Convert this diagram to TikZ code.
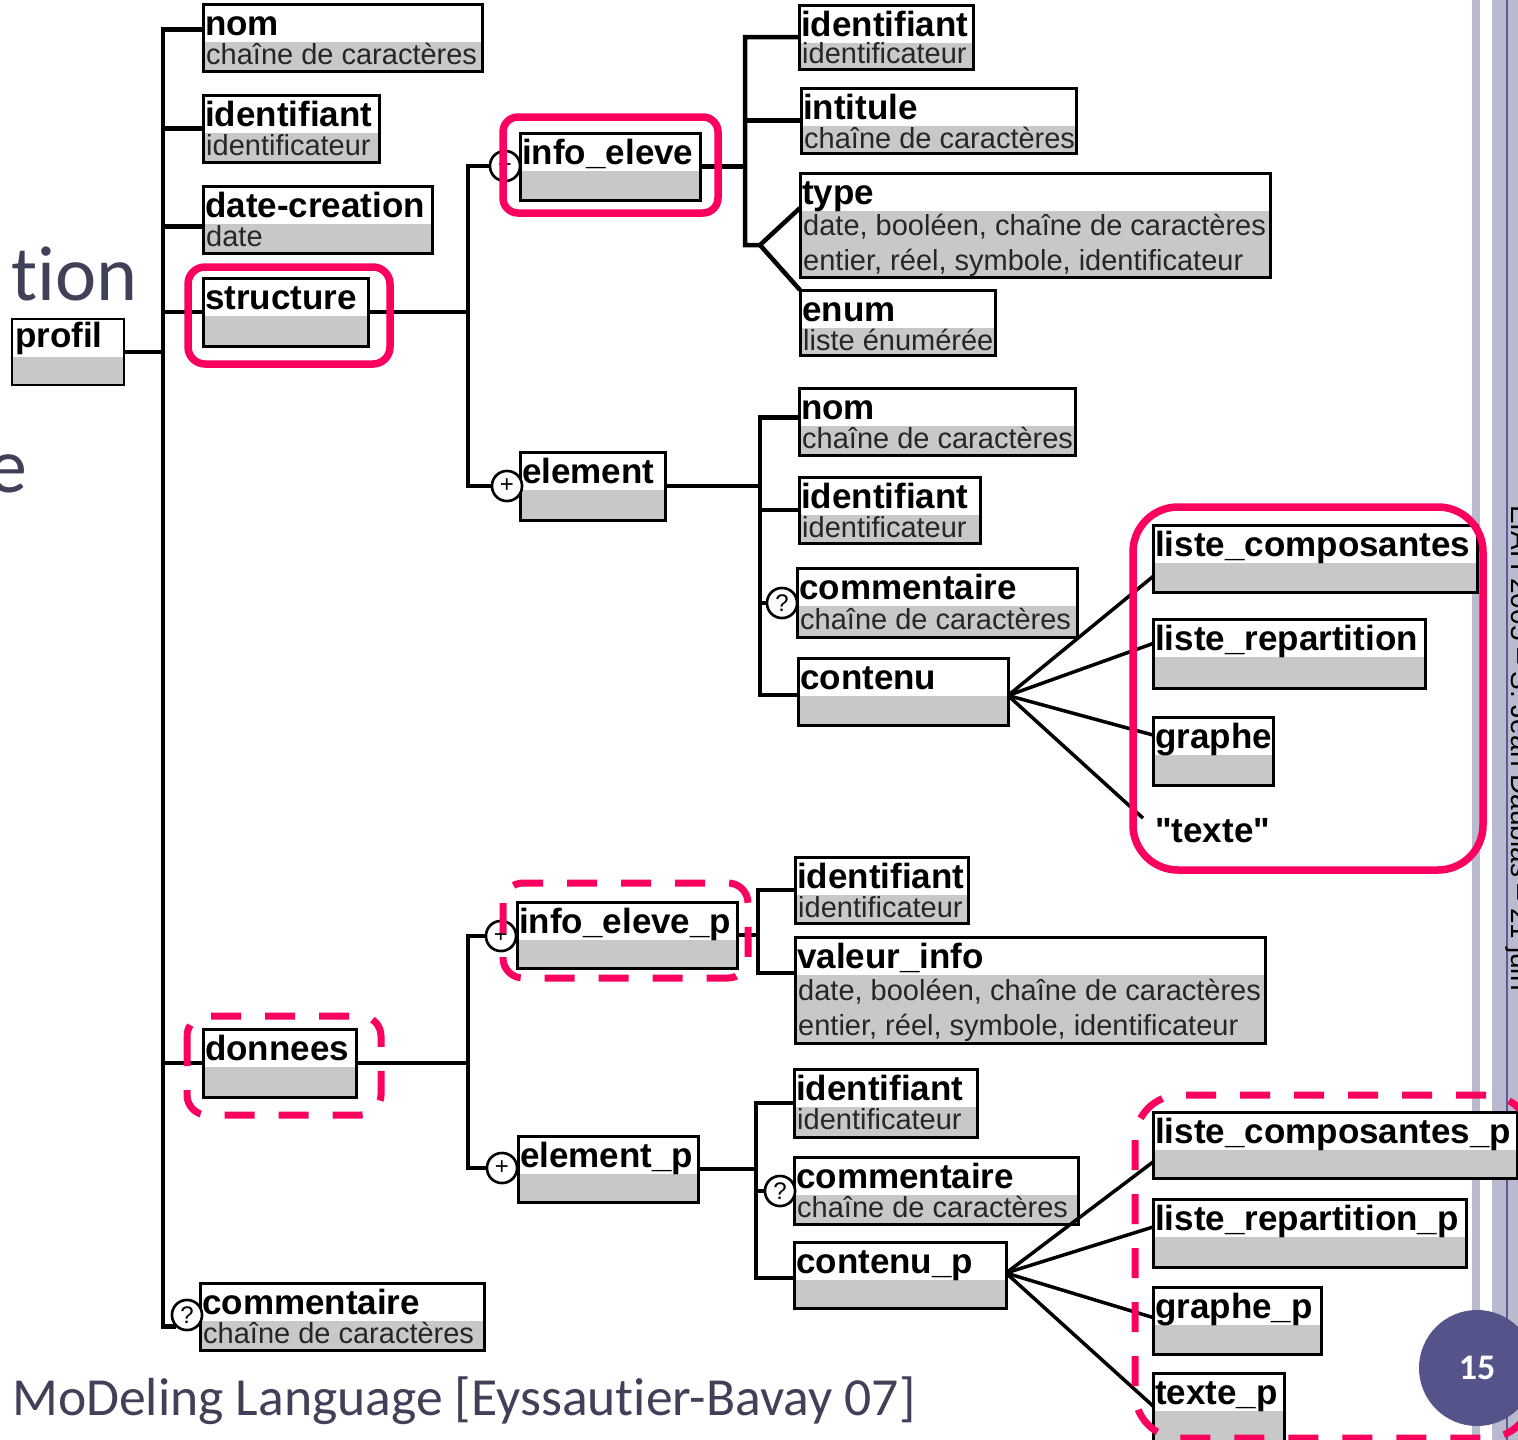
\documentclass[tikz,border=0pt]{standalone}
\usepackage{fontspec}
\setmainfont{Liberation Sans}
\newfontfamily\qfont{Liberation Sans}
\newfontfamily\calibri[Ligatures={NoCommon}]{Carlito}
\usetikzlibrary{calc}
\definecolor{boxgray}{RGB}{200,200,200}
\definecolor{hl}{RGB}{250,0,95}
\definecolor{slate}{RGB}{64,64,88}
\definecolor{barcol}{RGB}{186,186,206}
\definecolor{barline}{RGB}{90,90,150}
\definecolor{pagecol}{RGB}{84,84,138}
\tikzset{
  ebox/.style={rectangle, draw=black, line width=3pt, fill=white, inner sep=0pt, outer sep=0pt, anchor=north west,
    path picture={\fill[boxgray] ([yshift=-38pt]path picture bounding box.north west) rectangle (path picture bounding box.south east);}},
  namest/.style={anchor=base west, inner sep=0pt, font=\fontsize{35}{40}\selectfont\bfseries},
  typest/.style={anchor=base west, inner sep=0pt, font=\fontsize{29}{34}\selectfont, text=black!85},
  conn/.style={line width=4.5pt, draw=black},
  fan/.style={line width=3.5pt, draw=black},
  opt/.style={circle, draw=black, line width=2.5pt, fill=white, minimum size=30pt, inner sep=0pt, font=\fontsize{24}{24}\selectfont},
  hlsolid/.style={draw=hl, line width=7.5pt},
  hldash/.style={draw=hl, line width=7pt, dash pattern=on 30pt off 24pt},
  slidetxt/.style={inner sep=0pt, text=slate},
}
\newcommand\mybox[6]{%
  \node[ebox, minimum width=#4pt, minimum height=#5pt] (#1) at (#2,#3) {};
  \node[namest] (#1-n) at ([xshift=2pt,yshift=-31pt]#1.north west) {#6};
}
\newcommand\mytype[3]{%
  \node[typest] (#1-t#2) at ([xshift=3pt,yshift=-#2pt]#1.north west) {#3};
}
\begin{document}
\begin{tikzpicture}[x=1pt,y=-1pt]
\useasboundingbox (0,0) rectangle (1518,1440);
\clip (0,0) rectangle (1518,1440);
% ---------- bars (background)
\fill[barcol] (1472,0) rectangle (1480,1440);
\fill[barcol] (1492,0) rectangle (1518,1440);
\draw[barline, line width=1.5pt] (1507,0) -- (1507,1440);

% ---------- boxes
\node[ebox, line width=2pt, minimum width=112pt, minimum height=66pt] (profil) at (12,319) {};
\node[namest] (profil-n) at ([xshift=3pt,yshift=-28pt]profil.north west) {profil};

\mybox{nom1}{203}{4}{279}{67}{nom} \mytype{nom1}{60}{chaîne de caractères}
\mybox{id1}{203}{95}{176}{67}{identifiant} \mytype{id1}{60}{identificateur}
\mybox{date}{203}{186}{229}{67}{date-creation} \mytype{date}{60}{date}
\mybox{structure}{203}{278}{165}{68}{structure}
\mybox{donnees}{203}{1029}{153}{68}{donnees}
\mybox{comm1}{200}{1283}{284}{67}{commentaire} \mytype{comm1}{60}{chaîne de caractères}

\mybox{info}{520}{133}{180}{67}{info\_eleve}
\mybox{element}{520}{452}{145}{68}{element}

\mybox{id2}{799}{5}{174}{64}{identifiant} \mytype{id2}{58}{identificateur}
\mybox{intitule}{801}{88}{275}{65}{intitule} \mytype{intitule}{60}{chaîne de caractères}
\mybox{type}{800}{173}{470}{104}{type}
\mytype{type}{62}{date, booléen, chaîne de caractères}
\mytype{type}{97}{entier, réel, symbole, identificateur}
\mybox{enum}{800}{290}{195}{65}{enum} \mytype{enum}{60}{liste énumérée}

\mybox{nom2}{799}{388}{276}{67}{nom} \mytype{nom2}{60}{chaîne de caractères}
\mybox{id3}{799}{477}{181}{66}{identifiant} \mytype{id3}{60}{identificateur}
\mybox{comm2}{797}{568}{280}{69}{commentaire} \mytype{comm2}{61}{chaîne de caractères}
\mybox{contenu}{798}{658}{210}{67}{contenu}

\mybox{lcomp}{1153}{525}{324}{67}{liste\_composantes}
\mybox{lrep}{1153}{619}{272}{69}{liste\_repartition}
\mybox{graphe}{1153}{717}{120}{68}{graphe}
\node[namest, font=\qfont\fontsize{35}{40}\selectfont\bfseries] (texte) at (1155,842) {"texte"};

\mybox{infop}{517}{902}{220}{66}{info\_eleve\_p}
\mybox{elemp}{518}{1136}{180}{66}{element\_p}
\mybox{id4}{795}{857}{173}{66}{identifiant} \mytype{id4}{60}{identificateur}
\mybox{valeur}{795}{937}{470}{106}{valeur\_info}
\mytype{valeur}{63}{date, booléen, chaîne de caractères}
\mytype{valeur}{98}{entier, réel, symbole, identificateur}
\mybox{id5}{794}{1069}{183}{68}{identifiant} \mytype{id5}{60}{identificateur}
\mybox{comm3}{794}{1157}{284}{67}{commentaire} \mytype{comm3}{60}{chaîne de caractères}
\mybox{contp}{794}{1242}{212}{66}{contenu\_p}

\mybox{lcompp}{1153}{1112}{364}{66}{liste\_composantes\_p}
\mybox{lrepp}{1153}{1199}{313}{68}{liste\_repartition\_p}
\mybox{graphep}{1153}{1287}{168}{67}{graphe\_p}
\mybox{textep}{1153}{1373}{131}{76}{texte\_p}

% ---------- optional / multiplicity circles (positions)
\node[opt] (p1) at (505,166) {+};
\node[opt] (p2) at (507,486) {+};
\node[opt] (p3) at (501,936) {+};
\node[opt] (p4) at (502,1168) {+};
\node[opt] (q1) at (187,1315) {?};
\node[opt] (q2) at (782,603) {?};
\node[opt] (q3) at (780,1191) {?};

% ---------- connectors
\coordinate (T1) at (163,0);
\coordinate (nomc) at ([yshift=8pt]nom1.west);
\coordinate (datec) at ([yshift=-7pt]date.west);
\draw[conn] (nomc) -| (T1 |- q1.south west) -- (q1.south west);
\draw[conn] (id1.west) -- (id1.west -| T1);
\draw[conn] (datec) -- (datec -| T1);
\draw[conn] (structure.west) -- (structure.west -| T1);
\draw[conn] (donnees.west) -- (donnees.west -| T1);
\draw[conn] (profil.east) -- (profil.east -| T1);

\coordinate (T2) at (468,0);
\draw[conn] (structure.east) -- (structure.east -| T2);
\draw[conn] (p1.west) -- (p1.west -| T2) -- (p2.west -| T2) -- (p2.west);

\coordinate (T3) at (745,245);
\coordinate (F2) at (760,245);
\coordinate (tyc) at ([yshift=17pt]type.west);
\draw[conn] (info.east) -- (info.east -| T3);
\draw[conn] (id2.west) -| (T3) -- (F2) -- (tyc);
\draw[conn] (F2) -- (enum.north west);
\draw[conn] (intitule.west) -- (intitule.west -| T3);

\coordinate (T4) at (760,695);
\coordinate (n2c) at ([yshift=4pt]nom2.west);
\draw[conn] (element.east) -- (element.east -| T4);
\draw[conn] (n2c) -| (T4) -- (T4 -| contenu.west);
\draw[conn] (id3.west) -- (id3.west -| T4);
\draw[conn] (q2.west) -- (q2.west -| T4);

\coordinate (O1) at ([yshift=-4pt]contenu.east);
\coordinate (tx1) at ([xshift=-12pt,yshift=12pt]texte.west);
\foreach \t/\s in {lcomp/-18pt, lrep/10pt, graphe/16pt}
  \draw[fan] (O1) -- ([yshift=\s]\t.west);
\draw[fan] (O1) -- (tx1);

\coordinate (T5) at (468,0);
\draw[conn] (donnees.east) -- (donnees.east -| T5);
\draw[conn] (p3.west) -- (p3.west -| T5) -- (p4.west -| T5) -- (p4.west);

\coordinate (T6) at (758,973);
\draw[conn] (infop.east) -- (infop.east -| T6);
\draw[conn] (id4.west) -| (T6) -- (T6 -| valeur.west);

\coordinate (T7) at (756,1278);
\draw[conn] (elemp.east) -- (elemp.east -| T7);
\draw[conn] (id5.west) -| (T7) -- (T7 -| contp.west);
\draw[conn] (q3.west) -- (q3.west -| T7);

\coordinate (O2) at ([yshift=2pt]contp.east);
\foreach \t/\s in {lcompp/-17pt, lrepp/6pt, graphep/3pt, textep/5pt}
  \draw[fan] (O2) -- ([yshift=\s]\t.west);

% redraw circles over line ends
\foreach \c/\g in {p1/+, p2/+, p3/+, p4/+, q1/?, q2/?, q3/?}
  \node[opt] at (\c) {\g};

% ---------- highlights
\draw[hlsolid, rounded corners=17pt] (188,267) rectangle (390,364);
\draw[hlsolid, rounded corners=15pt] (503,117) rectangle (718,213);
\draw[hlsolid, rounded corners=45pt] (1133,507) rectangle (1483,870);
\draw[hldash, rounded corners=20pt] (187,1016) rectangle (381,1115);
\draw[hldash, rounded corners=20pt] (503,883) rectangle (748,978);
\draw[hldash, rounded corners=45pt] (1135,1095) rectangle (1532,1438);

% ---------- slide texts
\node[slidetxt, anchor=base east, font=\calibri\fontsize{78}{80}\selectfont] (tion) at (138,300) {tion};
\node[slidetxt, anchor=base west, font=\calibri\fontsize{78}{80}\selectfont] (ee) at (-12,492) {e};
\node[slidetxt, anchor=base west, font=\calibri\fontsize{53.6}{58}\selectfont] (cite) at (12,1415) {MoDeling Language [Eyssautier-Bavay 07]};
\node[rotate=-90, anchor=base west, inner sep=0pt, font=\fontsize{28}{32}\selectfont] (foot) at (1511,505) {EIAH 2005 – S. Jean Daubias – 21 juin};
\node[circle, fill=pagecol, minimum size=116pt, inner sep=0pt, text=white, font=\calibri\bfseries\fontsize{36}{40}\selectfont] (pg) at (1477,1368) {15};
\end{tikzpicture}
\end{document}
